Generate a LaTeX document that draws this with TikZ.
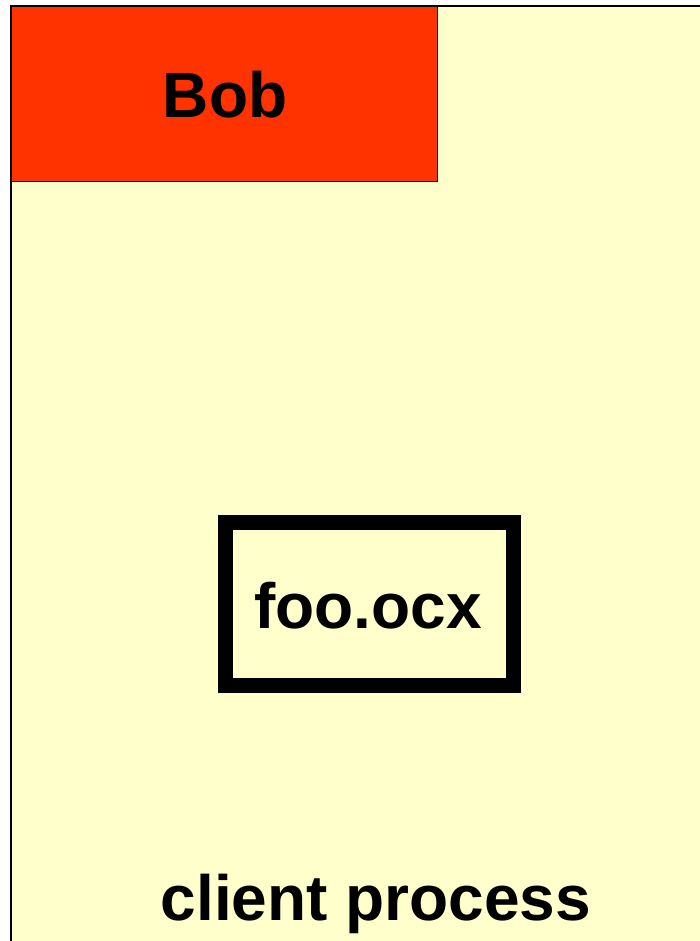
\documentclass[tikz,border=0pt]{standalone}
\usepackage{fontspec}
\setmainfont{Liberation Sans}
\usetikzlibrary{positioning}

\definecolor{procyellow}{HTML}{FFFFCC}
\definecolor{userred}{HTML}{FF3300}

\begin{document}
\begin{tikzpicture}[x=1pt,y=-1pt,
    label text/.style={font=\fontsize{64}{64}\selectfont\bfseries}]
  \useasboundingbox (0,0) rectangle (700,941);
  \clip (0,0) rectangle (700,941);
  \fill[white] (0,0) rectangle (700,941);
  % process area runs off the page
  \draw[fill=procyellow,line width=1.4pt] (11,6) rectangle (720,960);
  \node[draw,fill=userred,line width=1.4pt,minimum width=426pt,minimum height=175pt,
        inner sep=0pt,anchor=north west] (user) at (11,6) {};
  \node[label text,anchor=base] (username) at (225,118) {Bob};
  \node[draw,line width=15pt,minimum width=288pt,minimum height=163pt,
        inner sep=0pt] (control) at (369,603.5) {};
  \node[label text,anchor=base] (controlname) at (368,628) {foo.ocx};
  \node[label text,anchor=base] (process) at (376,920) {client process};
\end{tikzpicture}
\end{document}
